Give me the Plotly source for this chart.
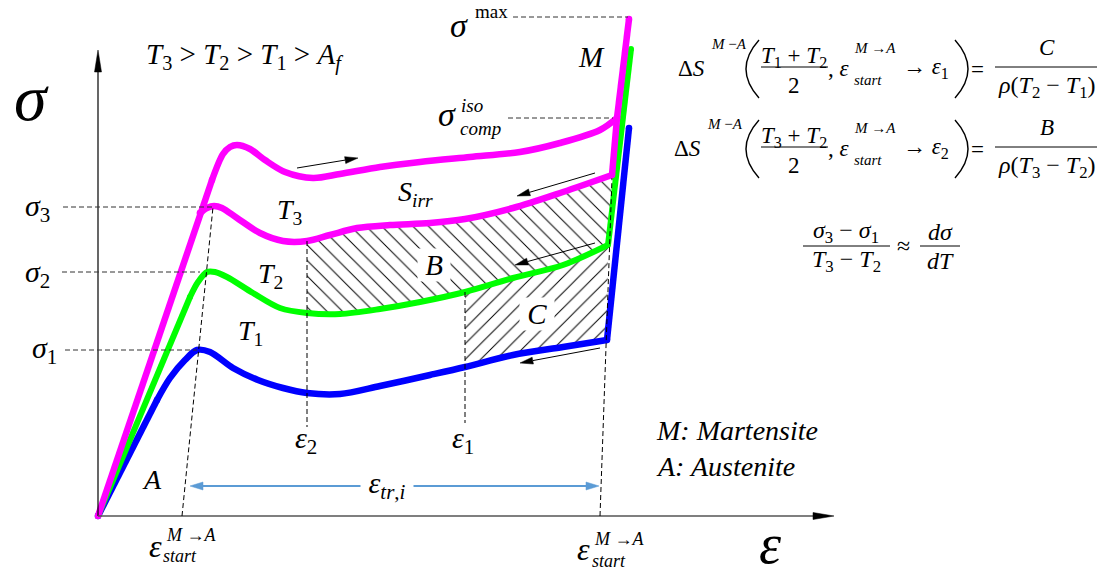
import math
import plotly.graph_objects as go

# ---------------- curve data: strain (eps) vs stress (sig), drawing units ----------------
# T3: loading branch up to sigma_max
eps_T3_load = [0, 114, 125, 132, 139, 152, 167, 187, 215, 242, 282, 322, 372, 422, 462, 502, 519, 531]
sig_T3_load = [0, 336, 362, 369, 371, 367, 356, 344, 338, 342, 349, 354, 359, 364, 373, 386, 398, 497]

# T3: unloading plateau
eps_T3_unload = [102, 109, 116, 124, 139, 162, 185, 209, 232, 259, 292, 332, 367, 415, 465, 514, 519]
sig_T3_unload = [303, 308, 310, 308, 298, 283, 275, 275, 281, 288, 291, 293, 297, 308, 324, 341, 398]

# T2
eps_T2 = [0, 92, 100, 109, 117, 129, 155, 182, 209, 242, 282, 322, 367, 415, 465, 510, 533]
sig_T2 = [0, 219, 234, 244, 244, 239, 223, 208, 203, 202, 207, 214, 224, 238, 251, 271, 467]

# T1
eps_T1 = [0, 59, 72, 87, 99, 112, 135, 160, 185, 209, 242, 282, 332, 367, 415, 465, 509, 531]
sig_T1 = [0, 116, 138, 156, 166, 164, 148, 136, 128, 123, 122, 130, 141, 149, 161, 169, 176, 388]

# characteristic levels
sig_1, sig_2, sig_3 = 166, 244, 309
sig_max, sig_comp_iso = 499, 398
eps_2, eps_1 = 209, 367
eps_B_end, eps_C_end = 514, 510

# start-of-transformation guide lines (bottom point, top point)
guide_left_eps, guide_left_sig = [84, 115], [0, 309]
guide_right_eps, guide_right_sig = [502, 514], [0, 338]

# transformation strain span
eps_tr_span = [92, 501]
sig_tr_level = 30

SERIF = "Liberation Serif"
MAGENTA, GREEN, BLUE = "#ff00ff", "#00ff00", "#0000ff"

fig = go.Figure()
shapes, annotations = [], []

# ---------------- hatched areas B and C ----------------
B_top = [(e, s) for e, s in zip(eps_T3_unload, sig_T3_unload) if eps_2 <= e <= eps_B_end]
B_bot = [(e, s) for e, s in zip(eps_T2, sig_T2) if eps_2 <= e <= eps_C_end][::-1]
B_poly = B_top + B_bot
C_top = [(e, s) for e, s in zip(eps_T2, sig_T2) if eps_1 <= e <= eps_C_end]
C_bot = [(e, s) for e, s in zip(eps_T1, sig_T1) if eps_1 <= e <= 509][::-1]
C_poly = C_top + C_bot

for poly, shape in ((B_poly, "\\"), (C_poly, "/")):
    fig.add_trace(go.Scatter(
        x=[p[0] for p in poly] + [poly[0][0]], y=[p[1] for p in poly] + [poly[0][1]],
        mode="lines", line=dict(width=0), fill="toself", fillcolor="rgba(0,0,0,0)",
        fillpattern=dict(shape=shape, size=11, solidity=0.09, fgcolor="black",
                         bgcolor="rgba(0,0,0,0)", fgopacity=1),
        hoverinfo="skip", showlegend=False))


# ---------------- stress-strain curves ----------------
def curve(ex, sy, color, width, smooth_from, smooth_to):
    """Straight elastic start, smooth plateau, straight final stiff branch."""
    parts = []
    if smooth_from > 0:
        parts.append((ex[:smooth_from + 1], sy[:smooth_from + 1], "linear"))
    parts.append((ex[smooth_from:smooth_to + 1], sy[smooth_from:smooth_to + 1], "spline"))
    parts.append((ex[smooth_to:], sy[smooth_to:], "linear"))
    for px_, py_, shp in parts:
        fig.add_trace(go.Scatter(x=px_, y=py_, mode="lines",
                                 line=dict(color=color, width=width, shape=shp, smoothing=0.9),
                                 hoverinfo="skip", showlegend=False))
    # round joints and ends
    joints = [0, smooth_from, smooth_to, len(ex) - 1]
    fig.add_trace(go.Scatter(x=[ex[i] for i in joints], y=[sy[i] for i in joints], mode="markers",
                             marker=dict(color=color, size=width, line=dict(width=0)),
                             hoverinfo="skip", showlegend=False))


curve(eps_T1, sig_T1, BLUE, 6.5, 1, 16)
curve(eps_T2, sig_T2, GREEN, 6, 1, 15)
curve(eps_T3_unload, sig_T3_unload, MAGENTA, 6.5, 0, 15)
curve(eps_T3_load, sig_T3_load, MAGENTA, 6.5, 1, 16)


# ---------------- helpers ----------------
def seg(x0, y0, x1, y1, color="black", width=1.0, dash=None):
    shapes.append(dict(type="line", xref="x", yref="y", x0=x0, y0=y0, x1=x1, y1=y1,
                       line=dict(color=color, width=width, dash=dash), layer="above"))


def head(tip, tail, length, half_w, color):
    dx, dy = tip[0] - tail[0], tip[1] - tail[1]
    n = math.hypot(dx, dy)
    ux, uy = dx / n, dy / n
    bx, by = tip[0] - ux * length, tip[1] - uy * length
    nx, ny = -uy * half_w, ux * half_w
    path = (f"M{tip[0]},{tip[1]} L{bx + nx:.2f},{by + ny:.2f} "
            f"L{bx - nx:.2f},{by - ny:.2f} Z")
    shapes.append(dict(type="path", xref="x", yref="y", path=path, fillcolor=color,
                       line=dict(color=color, width=0.5), layer="above"))
    return bx, by


def arrow(tail, tip, color="black", width=1.0, length=13, half_w=3.5):
    bx, by = head(tip, tail, length, half_w, color)
    seg(tail[0], tail[1], bx, by, color, width)


def label(x, y, text, size=28, xanchor="left", yanchor="middle", bg=None):
    ann = dict(x=x, y=y, xref="x", yref="y", text=text, showarrow=False,
               xanchor=xanchor, yanchor=yanchor, borderpad=0,
               font=dict(family=SERIF, size=size, color="black"))
    if bg:
        ann["bgcolor"] = bg
    annotations.append(ann)


def paren(x_top, y_top, y_bot, bulge):
    ym = (y_top + y_bot) / 2
    shapes.append(dict(type="path", xref="x", yref="y",
                       path=f"M{x_top},{y_top} Q{x_top + bulge},{ym} {x_top},{y_bot}",
                       line=dict(color="black", width=1.4), layer="above"))


DASH = "5px,3px"
GUIDE = "#333333"

# ---------------- axes ----------------
seg(0, 0, 0, 446, "black", 1.2)
head((0, 466), (0, 0), 22, 3.5, "black")
seg(0, 0, 716, 0, "#555555", 1.6)
head((736, 0), (0, 0), 21, 3.5, "black")

# ---------------- dashed guides ----------------
seg(415, sig_max, 530, sig_max, GUIDE, 1, DASH)
seg(410, sig_comp_iso, 515, sig_comp_iso, GUIDE, 1, DASH)
seg(-35, sig_3, 115, sig_3, GUIDE, 1, DASH)
seg(-36, sig_2, 102, sig_2, GUIDE, 1, DASH)
seg(-33, sig_1, 99, sig_1, GUIDE, 1, DASH)
seg(guide_left_eps[0], guide_left_sig[0], guide_left_eps[1], guide_left_sig[1], "black", 1, DASH)
seg(guide_right_eps[0], guide_right_sig[0], guide_right_eps[1], guide_right_sig[1], "black", 1, DASH)
seg(eps_2, 275, eps_2, 89, "black", 1, DASH)
seg(eps_1, 224, eps_1, 93, "black", 1, DASH)

# ---------------- direction arrows ----------------
arrow((199, 348), (260, 358))
arrow((497, 343), (419, 320))
arrow((497, 273), (417, 251))
arrow((502, 168), (422, 153))

# transformation strain span (double arrow)
TR = "#5b9bd5"
bl = head((eps_tr_span[0], sig_tr_level), (eps_tr_span[1], sig_tr_level), 13, 4, TR)
br = head((eps_tr_span[1], sig_tr_level), (eps_tr_span[0], sig_tr_level), 13, 4, TR)
seg(bl[0], sig_tr_level, br[0], sig_tr_level, TR, 2)

# ---------------- labels on the diagram ----------------
label(-67, 419, "<i>σ</i>", 66, "center")
label(47, 460, "<i>T</i><sub>3</sub> &gt; <i>T</i><sub>2</sub> &gt; <i>T</i><sub>1</sub> &gt; <i>A</i><sub><i>f</i></sub>", 29)
label(351, 491, "<i>σ</i>", 34)
label(376, 505, "max", 19)
label(339, 402, "<i>σ</i>", 34)
label(362, 411, "<i>iso</i>", 19)
label(361, 388, "<i>comp</i>", 19)
label(493, 459, "<i>M</i>", 29, "center")
label(299, 323, "<i>S</i><sub><i>irr</i></sub>", 28)
label(178, 305, "<i>T</i><sub>3</sub>", 28)
label(159, 241, "<i>T</i><sub>2</sub>", 28)
label(139, 184, "<i>T</i><sub>1</sub>", 28)
label(-74, 308, "<i>σ</i><sub>3</sub>", 30)
label(-74, 242, "<i>σ</i><sub>2</sub>", 30)
label(-67, 166, "<i>σ</i><sub>1</sub>", 30)
label(336, 251, "<i> B </i>", 29, "center", bg="white")
label(439, 202, "<i> C </i>", 29, "center", bg="white")
label(196, 76, "<i>ε</i><sub>2</sub>", 30)
label(353, 76, "<i>ε</i><sub>1</sub>", 30)
label(262, 31, " <i>ε</i><sub><i>tr</i>,<i>i</i></sub> ", 30, bg="white")
label(54, 37, "<i>A</i>", 28, "center")
label(57, -30, "<i>ε</i>", 32, "center")
label(67, -19, "<i>M</i> →<i>A</i>", 18)
label(64, -40, "<i>start</i>", 18)
label(485, -33, "<i>ε</i>", 32, "center")
label(495, -23, "<i>M</i> →<i>A</i>", 18)
label(493, -45, "<i>start</i>", 18)
label(672, -60, "<i>ε</i>", 56, "center", "bottom")
label(557, 86, "<i>M: Martensite</i>", 28)
label(557, 50, "<i>A: Austenite</i>", 28)


# ---------------- equations ----------------
def equation(dy, num_left, start_left, rhs_num, rhs_den, ds_left):
    label(ds_left, 448 - dy, "Δ<i>S</i>", 23)
    label(ds_left + 33, 472 - dy, "<i>M</i> −<i>A</i>", 15)
    paren(661, 476 - dy, 418 - dy, -26)
    label(696, 459 - dy, num_left, 23, "center")
    seg(663, 449 - dy, 730, 449 - dy, "black", 1)
    label(696, 431 - dy, "2", 23, "center")
    label(729, 448 - dy, ", <i>ε</i>", 23)
    label(755, 468 - dy, "<i>M</i> →<i>A</i>", 15)
    label(755, 436 - dy, "<i>start</i>", 15)
    label(804, 448 - dy, "→ " + start_left, 23)
    paren(857, 476 - dy, 418 - dy, 26)
    label(879, 447 - dy, "=", 23, "center")
    seg(897, 449 - dy, 999, 449 - dy, "black", 1)
    label(949, 469 - dy, rhs_num, 23, "center")
    label(949, 429 - dy, rhs_den, 24, "center")


equation(0, "<i>T</i><sub>1</sub> + <i>T</i><sub>2</sub>", "<i>ε</i><sub>1</sub>",
         "<i>C</i>", "<i>ρ</i>(<i>T</i><sub>2</sub> − <i>T</i><sub>1</sub>)", 579)
equation(80, "<i>T</i><sub>3</sub> + <i>T</i><sub>2</sub>", "<i>ε</i><sub>2</sub>",
         "<i>B</i>", "<i>ρ</i>(<i>T</i><sub>3</sub> − <i>T</i><sub>2</sub>)", 575)

label(748, 284, "<i>σ</i><sub>3</sub> − <i>σ</i><sub>1</sub>", 24, "center")
seg(705, 270, 792, 270, "black", 1)
label(748, 255, "<i>T</i><sub>3</sub> − <i>T</i><sub>2</sub>", 24, "center")
label(805, 270, "≈", 24, "center")
label(842, 284, "<i>dσ</i>", 24, "center")
seg(822, 270, 862, 270, "black", 1)
label(842, 255, "<i>dT</i>", 24, "center")

fig.update_layout(
    width=1109, height=577, autosize=False,
    margin=dict(l=0, r=0, t=0, b=0),
    paper_bgcolor="white", plot_bgcolor="white",
    xaxis=dict(range=[-98, 1011], visible=False, fixedrange=True),
    yaxis=dict(range=[-61, 516], visible=False, fixedrange=True),
    shapes=shapes, annotations=annotations, showlegend=False,
    font=dict(family=SERIF),
)

fig.write_html("out.html")
